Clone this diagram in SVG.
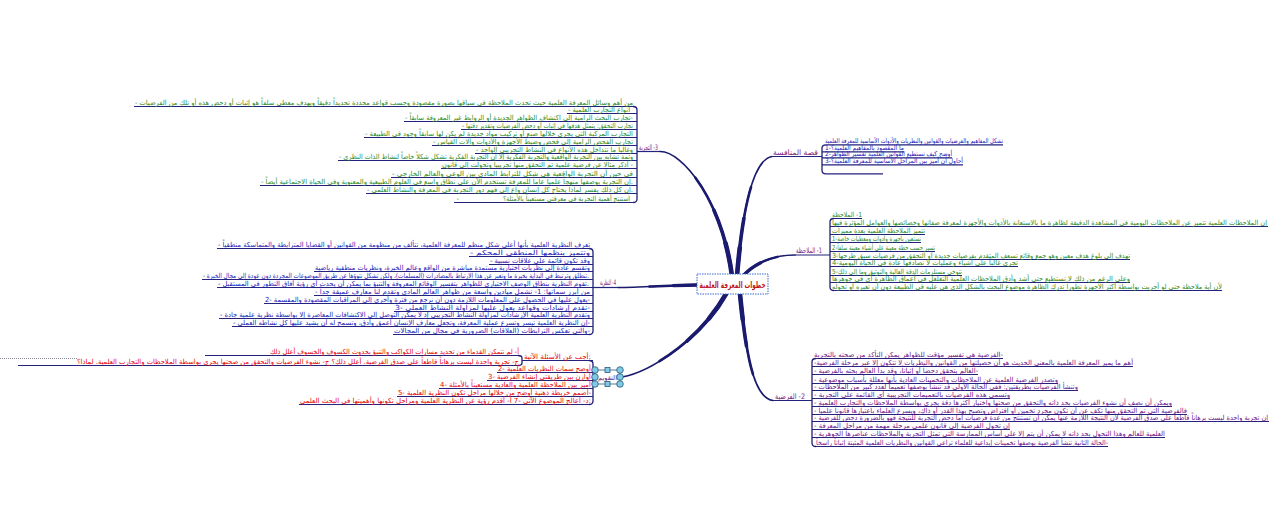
<svg xmlns="http://www.w3.org/2000/svg" xmlns:xlink="http://www.w3.org/1999/xlink" width="1287" height="513" viewBox="0 0 1287 513">
<style>
.t{font-family:"DejaVu Sans","Noto Sans",sans-serif;font-size:7px;direction:rtl;text-anchor:start}
.s{font-size:6.5px}
.g{fill:#2c8a1c}
.b{fill:#2020b8}
.r{fill:#e60000}
.p{fill:#6b1089}
.lab{fill:#7a1a7a;font-size:7.5px}
.ul{stroke:#23237e;stroke-width:1.2;fill:none}
.sp{stroke:#1f1f78;stroke-width:1.3;fill:none;stroke-linejoin:round}
.conn use{fill:none;stroke:#1a1a6e;stroke-linecap:round}
.hc{fill:#7fc9e4;stroke:#2a5a78;stroke-width:0.8}
</style>
<defs>
<path id="c1" pathLength="100" d="M732,276 C722,200 682,151 660,151.5"/>
<path id="c2" pathLength="100" d="M737,276 C742,215 752,160 772,156.5"/>
<path id="c3" pathLength="100" d="M742,277 C755,262 775,255 795,255"/>
<path id="c4" pathLength="100" d="M697,285 C675,285 640,287.5 618,287.5"/>
<path id="c5" pathLength="100" d="M726,294 C700,340 650,372 622,377"/>
<path id="c6" pathLength="100" d="M740,294 C745,345 752,398 773,400.5"/>
</defs>
<rect width="1287" height="513" fill="#ffffff"/>

<g id="connectors" class="conn">
<use xlink:href="#c1" stroke-width="1.7"/><use xlink:href="#c1" stroke-width="2.6" stroke-dasharray="70 200"/><use xlink:href="#c1" stroke-width="3.6" stroke-dasharray="45 200"/><use xlink:href="#c1" stroke-width="4.6" stroke-dasharray="22 200"/>
<use xlink:href="#c2" stroke-width="1.7"/><use xlink:href="#c2" stroke-width="2.6" stroke-dasharray="70 200"/><use xlink:href="#c2" stroke-width="3.6" stroke-dasharray="45 200"/><use xlink:href="#c2" stroke-width="4.6" stroke-dasharray="22 200"/>
<use xlink:href="#c3" stroke-width="1.6"/><use xlink:href="#c3" stroke-width="2.5" stroke-dasharray="70 200"/><use xlink:href="#c3" stroke-width="3.4" stroke-dasharray="40 200"/>
<use xlink:href="#c4" stroke-width="1.6"/><use xlink:href="#c4" stroke-width="2.5" stroke-dasharray="60 200"/><use xlink:href="#c4" stroke-width="3.3" stroke-dasharray="30 200"/>
<use xlink:href="#c5" stroke-width="1.7"/><use xlink:href="#c5" stroke-width="2.6" stroke-dasharray="70 200"/><use xlink:href="#c5" stroke-width="3.6" stroke-dasharray="45 200"/><use xlink:href="#c5" stroke-width="4.6" stroke-dasharray="22 200"/>
<use xlink:href="#c6" stroke-width="1.7"/><use xlink:href="#c6" stroke-width="2.6" stroke-dasharray="70 200"/><use xlink:href="#c6" stroke-width="3.6" stroke-dasharray="45 200"/><use xlink:href="#c6" stroke-width="4.6" stroke-dasharray="22 200"/>
<path class="sp" d="M633,106.5 Q637,106.5 637,110 V199 Q637,202.5 633,202.5"/>
<path class="sp" d="M589,248.5 Q593,248.5 593,252 V331 Q593,334.5 589,334.5"/>
<path class="sp" d="M589,360.5 Q593,360.5 593,364 V401 Q593,404.5 589,404.5"/>
<path class="sp" d="M518,355.5 Q522,355.5 522,358 V363 Q522,365.5 518,365.5"/>
<path class="sp" d="M826,144.8 Q822,144.8 822,148 V170.5 Q822,173.8 826,173.8"/>
<path class="sp" d="M834,218.5 Q830,218.5 830,222 V287 Q830,290.5 834,290.5"/>
<path class="sp" d="M816,358.5 Q812,358.5 812,362 V443 Q812,446.5 816,446.5"/>
</g>

<g id="center">
<rect x="697" y="274" width="71" height="20" fill="#ffffff" stroke="#3a6ad0" stroke-width="1" stroke-dasharray="1.5 1"/>
<text x="732.5" y="288" style="font-family:'DejaVu Sans',sans-serif;font-size:9px;font-weight:bold;fill:#c0141c;text-anchor:middle;direction:rtl" textLength="66" lengthAdjust="spacingAndGlyphs">خطوات المعرفة العلمية</text>
</g>

<g id="tajriba">
<text class="t lab" x="658" y="149.5" textLength="19" lengthAdjust="spacingAndGlyphs">3- التجربة</text>
<path class="ul" d="M637,151.5H660"/>
<path class="ul" d="M134,106.5H634 M567,113.5H637 M404,121.5H637 M461,129.5H637 M364,137.5H637 M432,145.5H637 M475,153.5H637 M338,160.5H637 M441,168.5H637 M391,177.5H637 M260,185.5H637 M366,193.5H637 M454,202.5H634"/>
<g class="t g" >
<text x="633" y="104.5" textLength="498" lengthAdjust="spacingAndGlyphs">من أهم وسائل المعرفة العلمية حيث تحدث الملاحظة في سياقها بصورة مقصودة وحسب قواعد محددة تحديداً دقيقاً وبهدف معطى سلفاً هو إثبات أو دحض هذه أو تلك من الفرضيات -</text>
<text x="630" y="111.5" textLength="62" lengthAdjust="spacingAndGlyphs">أنواع التجارب العلمية -</text>
<text x="633" y="119.5" textLength="228" lengthAdjust="spacingAndGlyphs">-تجارب البحث الرامية إلى اكتشاف الظواهر الجديدة أو الروابط غير المعروفة سابقاً -</text>
<text x="633" y="127.5" textLength="171" lengthAdjust="spacingAndGlyphs">تجارب التحقق: يتمثل هدفها في إثبات أو دحض الفرضيات وتقدير دقتها -</text>
<text x="633" y="135.5" textLength="268" lengthAdjust="spacingAndGlyphs">التجارب المركبة التي يجري خلالها صنع أو تركيب مواد جديدة لم يكن لها سابقاً وجود في الطبيعة -</text>
<text x="633" y="143.5" textLength="200" lengthAdjust="spacingAndGlyphs">تجارب الفحص الرامية إلى فحص وضبط الأجهزة والأدوات وآلات القياس -</text>
<text x="633" y="151.5" textLength="157" lengthAdjust="spacingAndGlyphs">وغالباً ما تتداخل هذه الأنواع في النشاط التجريبي الواحد -</text>
<text x="633" y="158.5" textLength="294" lengthAdjust="spacingAndGlyphs">وثمة تشابه بين التجربة الواقعية والتجربة الفكرية إلا أن التجربة الفكرية تشكل شكلاً خاصاً لنشاط الذات النظري -</text>
<text x="633" y="166.5" textLength="191" lengthAdjust="spacingAndGlyphs">- أذكر مثالاً عن فرضية علمية تم التحقق منها تجريبياً وتحولت إلى قانون</text>
<text x="633" y="175.5" textLength="241" lengthAdjust="spacingAndGlyphs">في حين أن التجربة الواقعية هي شكل للترابط المادي بين الوعي والعالم الخارجي -</text>
<text x="633" y="183.5" textLength="372" lengthAdjust="spacingAndGlyphs">.إن التجربة بوصفها منهجاً علمياً عاماً للمعرفة تستخدم الآن على نطاق واسع في العلوم الطبيعية والمعنوية وفي الحياة الاجتماعية أيضاً -</text>
<text x="633" y="191.5" textLength="266" lengthAdjust="spacingAndGlyphs">.إن كل ذلك يفسر لماذا يحتاج كل إنسان واع إلى فهم دور التجربة في المعرفة والنشاط العلمي -</text>
<text x="630" y="200.5" textLength="127" lengthAdjust="spacingAndGlyphs">استنتج أهمية التجربة في معرفتي مستعيناً بالأمثلة؟</text>
<text x="459" y="200.5">-</text>
</g>
</g>

<g id="nadhariya">
<text class="t lab s" x="616" y="284.5" textLength="16" lengthAdjust="spacingAndGlyphs">4- النظرية</text>
<path class="ul" d="M593,287.5H618"/>
<path class="ul" d="M217,248.5H590 M469,256.5H593 M489,264.5H593 M314,271.5H593 M202,279.5H593 M217,287.5H593 M314,295.5H593 M264,303.5H593 M394,311.5H593 M219,318.5H593 M232,326.5H593 M393,334.5H590"/>
<g class="t b">
<text x="590" y="246.5" textLength="372" lengthAdjust="spacingAndGlyphs">تعرف النظرية العلمية بأنها أعلى شكل منظم للمعرفة العلمية، تتألف من منظومة من القوانين أو القضايا المترابطة والمتماسكة منطقياً -</text>
<text x="590" y="254.5" textLength="120" lengthAdjust="spacingAndGlyphs">وتتميز بنظمها المنطقي المحكم -</text>
<text x="590" y="262.5" textLength="100" lengthAdjust="spacingAndGlyphs">وقد تكون قائمة على علاقات نسبية -</text>
<text x="590" y="269.5" textLength="275" lengthAdjust="spacingAndGlyphs">وتقسم عادة إلى نظريات اختبارية مستمدة مباشرة من الواقع وعالم الخبرة، ونظريات منطقية رياضية</text>
<text x="589" y="277.5" textLength="386" lengthAdjust="spacingAndGlyphs">.تنطلق وترتبط في البداية بخبرة ما وتعبر عن هذا الارتباط بالمصادرات (المسلمات)، ولكن تشكل نتوؤها عن طريق الموضوعات المجردة دون عودة إلى مجال الخبرة -</text>
<text x="589" y="285.5" textLength="371" lengthAdjust="spacingAndGlyphs">.تقوم النظرية بنطاق الوصف الاختباري للظواهر بتفسير الوقائع المعروفة والتنبؤ بما يمكن أن يحدث أي رؤية آفاق التطور في المستقبل -</text>
<text x="590" y="293.5" textLength="275" lengthAdjust="spacingAndGlyphs">من أبرز سماتها: 1- تشمل ميادين واسعة من ظواهر العالم المادي وتقدم لنا معارف عميقة جداً -</text>
<text x="590" y="301.5" textLength="325" lengthAdjust="spacingAndGlyphs">-يعول عليها في الحصول على المعلومات اللازمة دون أن نرجع من فترة وأخرى إلى المراقبات المقصودة والمقسمة -2</text>
<text x="590" y="309.5" textLength="195" lengthAdjust="spacingAndGlyphs">-تقدم إرشادات وقواعد يعول عليها لمزاولة النشاط العملي -3</text>
<text x="590" y="316.5" textLength="370" lengthAdjust="spacingAndGlyphs">وتقدم النظرية العلمية الإرشادات لمزاولة النشاط التجريبي إذ لا يمكن التوصل إلى الاكتشافات المعاصرة إلا بواسطة نظرية علمية جادة -</text>
<text x="590" y="324.5" textLength="357" lengthAdjust="spacingAndGlyphs">-إن النظرية العلمية تيسر وتسرع عملية المعرفة، وتجعل معارف الإنسان أعمق وأدق، وتسمح له أن يشيد عليها كل نشاطه العملي -</text>
<text x="590" y="332.5" textLength="196" lengthAdjust="spacingAndGlyphs">-والتي تعكس الترابطات (العلاقات) الضرورية في مجال من المجالات</text>
</g>
</g>

<g id="taqwim">
<rect x="595" y="370" width="25" height="14" fill="none" stroke="#2a5a78" stroke-width="0.8"/>
<text class="t" x="617" y="379.5" style="fill:#5a1a7a;font-size:6.5px" textLength="19" lengthAdjust="spacingAndGlyphs">التقويم</text>
<circle class="hc" cx="595" cy="370" r="3.3"/><circle class="hc" cx="620" cy="370" r="3.3"/>
<circle class="hc" cx="595" cy="377" r="3.3"/><circle class="hc" cx="620" cy="377" r="3.3"/>
<circle class="hc" cx="595" cy="384" r="3.3"/><circle class="hc" cx="620" cy="384" r="3.3"/>
<rect class="hc" x="605" y="367.5" width="5" height="5"/><rect class="hc" x="605" y="381.5" width="5" height="5"/>
<path class="ul" d="M522,360.5H593 M497,372.5H593 M487,380.5H593 M439,388.5H593 M397,396.5H593 M299,404.5H589 M205,355.5H518 M18,365.5H518"/>
<path d="M0,358.5H77" stroke="#8a8a9a" stroke-width="1" stroke-dasharray="1 1"/>
<g class="t r">
<text x="591" y="358.5" textLength="67" lengthAdjust="spacingAndGlyphs">:أجب عن الأسئلة الآتية</text>
<text x="519" y="353.5" textLength="249" lengthAdjust="spacingAndGlyphs">أ- لم تتمكن القدماء من تحديد مسارات الكواكب والتنبؤ بحدوث الكسوف والخسوف أعلل ذلك</text>
<text x="519" y="363.5" textLength="442" lengthAdjust="spacingAndGlyphs">ج- تجربة واحدة ليست برهاناً قاطعاً على صدق الفرضية. أعلل ذلك؟    ج- نشوء الفرضيات والتحقق من صحتها يجري بواسطة الملاحظات والتجارب العلمية. لماذا؟</text>
<text x="591" y="370.5" textLength="93" lengthAdjust="spacingAndGlyphs">أوضح سمات النظريات العلمية -2</text>
<text x="591" y="378.5" textLength="103" lengthAdjust="spacingAndGlyphs">أوازن بين طريقتي إنشاء الفرضية -3</text>
<text x="591" y="386.5" textLength="151" lengthAdjust="spacingAndGlyphs">أميز بين الملاحظة العلمية والعادية مستعيناً بالأمثلة -4</text>
<text x="591" y="394.5" textLength="193" lengthAdjust="spacingAndGlyphs">-أصمم خريطة ذهنية أوضح من خلالها مراحل تكون النظرية العلمية -5</text>
<text x="591" y="402.5" textLength="291" lengthAdjust="spacingAndGlyphs">:د- أعالج الموضوع الآتي -7    أ- أقدم رؤية عن النظرية العلمية ومراحل تكونها وأهميتها في البحث العلمي</text>
</g>
</g>

<g id="qissa">
<text class="t lab" x="818" y="154.5" textLength="45" lengthAdjust="spacingAndGlyphs">قصة المنافسة</text>
<path class="ul" d="M772,156.5H822"/>
<path class="ul" d="M826,144.8H1003 M822,151.8H904 M822,157.8H952 M822,164.8H963 M826,173.8H883"/>
<g class="t b s">
<text x="1003" y="143.3" textLength="178" lengthAdjust="spacingAndGlyphs">تشكل المفاهيم والفرضيات والقوانين والنظريات والأدوات الأساسية للمعرفة العلمية</text>
<text x="904" y="150.3" textLength="79" lengthAdjust="spacingAndGlyphs">ما المقصود بالمفاهيم العلمية؟-1</text>
<text x="952" y="156.3" textLength="127" lengthAdjust="spacingAndGlyphs">أوضح كيف تستطيع القوانين العلمية تفسير الظواهر-2</text>
<text x="963" y="163.3" textLength="138" lengthAdjust="spacingAndGlyphs">أحاول أن أميز بين المراحل الأساسية للمعرفة العلمية؟-3</text>
</g>
</g>

<g id="mulahatha">
<text class="t lab" x="822" y="252.5" textLength="26" lengthAdjust="spacingAndGlyphs">1- الملاحظة</text>
<path class="ul" d="M795,255H830"/>
<path class="ul" d="M834,218.5H862 M830,226.5H1268 M830,234.5H925 M830,242.5H921 M830,251.5H935 M830,259.5H1130 M830,266.5H1018 M830,275.5H962 M830,282.5H1130 M834,290.5H1222"/>
<g class="t g">
<text x="862" y="216.5" textLength="30" lengthAdjust="spacingAndGlyphs">1- الملاحظة</text>
<text x="1267" y="224.5" textLength="435" lengthAdjust="spacingAndGlyphs">إن الملاحظات العلمية تتميز عن الملاحظات اليومية في المشاهدة الدقيقة لظاهرة ما بالاستعانة بالأدوات والأجهزة لمعرفة صفاتها وخصائصها والعوامل المؤثرة فيها</text>
<text x="925" y="232.5" textLength="93" lengthAdjust="spacingAndGlyphs">تتميز الملاحظة العلمية بعدة مميزات</text>
<text x="921" y="240.5" textLength="89" lengthAdjust="spacingAndGlyphs">تستعين بأجهزة وأدوات ومعطيات خاصة-1</text>
<text x="935" y="249.5" textLength="103" lengthAdjust="spacingAndGlyphs">تسير حسب خطة معينة على أشياء معينة سلفاً-2</text>
<text x="1130" y="257.5" textLength="298" lengthAdjust="spacingAndGlyphs">تهدف إلى بلوغ هدف معين وهو جمع وقائع تسعف المتقدم بفرضيات جديدة أو التحقق من فرضيات سبق طرحها-3</text>
<text x="1018" y="264.5" textLength="186" lengthAdjust="spacingAndGlyphs">تجري غالباً على أشياء وعمليات لا نصادفها عادة في الحياة اليومية-4</text>
<text x="962" y="273.5" textLength="130" lengthAdjust="spacingAndGlyphs">تتوخى مستلزمات الدقة العالية والتوثيق وما إلى ذلك-5</text>
<text x="1130" y="280.5" textLength="298" lengthAdjust="spacingAndGlyphs">وعلى الرغم من ذلك لا تستطيع حتى أشد وأدق الملاحظات العلمية التغلغل في أعماق الظاهرة أي في جوهرها</text>
<text x="1222" y="288.5" textLength="390" lengthAdjust="spacingAndGlyphs">لأن أية ملاحظة حتى لو أجريت بواسطة أكثر الأجهزة تطوراً تدرك الظاهرة موضوع البحث بالشكل الذي هي عليه في الطبيعة دون أن تغيره أو تحوله</text>
</g>
</g>

<g id="fardiya">
<text class="t lab" x="805" y="398.5" textLength="30" lengthAdjust="spacingAndGlyphs">2- الفرضية</text>
<path class="ul" d="M773,400.5H812"/>
<path class="ul" d="M816,358.5H1003 M812,366.5H1133 M812,374.5H978 M812,383.5H1058 M812,390.5H1078 M812,398.5H1010 M812,406.5H1172 M812,414.5H1187 M812,421.5H1269 M812,429.5H1010 M812,437.5H1165 M816,446.5H1108"/>
<g class="t p">
<text x="1003" y="356.5" textLength="189" lengthAdjust="spacingAndGlyphs">-الفرضية هي تفسير مؤقت للظواهر يمكن التأكد من صحته بالتجربة</text>
<text x="1133" y="364.5" textLength="319" lengthAdjust="spacingAndGlyphs">أهم ما يميز المعرفة العلمية بالمعنى الحديث هو أن حصيلتها من القوانين والنظريات لا تتكون إلا عبر مرحلة الفرضية-</text>
<text x="978" y="372.5" textLength="164" lengthAdjust="spacingAndGlyphs">-العالم يتحقق دحضاً أو إثباتاً، وقد بدأ العالم بحثه بالفرضية -</text>
<text x="1058" y="381.5" textLength="244" lengthAdjust="spacingAndGlyphs">وتصدر الفرضية العلمية عن الملاحظات والتخمينات العادية بأنها معللة بأسباب موضوعية -</text>
<text x="1078" y="388.5" textLength="264" lengthAdjust="spacingAndGlyphs">وتنشأ الفرضيات بطريقتين: ففي الحالة الأولى قد تنشأ بوصفها تعميماً لعدد كبير من الملاحظات -</text>
<text x="1010" y="396.5" textLength="196" lengthAdjust="spacingAndGlyphs">وتسمى هذه الفرضيات بالتعميمات التجريبية أي القائمة على التجربة -</text>
<text x="1172" y="404.5" textLength="358" lengthAdjust="spacingAndGlyphs">ويمكن أن نصف أن نشوء الفرضيات بحد ذاته والتحقق من صحتها واختيار أكثرها دقة يجري بواسطة الملاحظات والتجارب العلمية -</text>
<text x="1187" y="412.5" textLength="373" lengthAdjust="spacingAndGlyphs">فالفرضية التي تم التحقق منها تكف عن أن تكون مجرد تخمين أو افتراض وتصبح بهذا القدر أو ذاك، ويسرع العلماء باعتبارها قانوناً علمياً -</text>
<text x="1268" y="419.5" textLength="454" lengthAdjust="spacingAndGlyphs">إن تجربة واحدة ليست برهاناً قاطعاً على صدق الفرضية لأن النتيجة اللازمة عنها يمكن أن تستنتج من عدة فرضيات أما دحض التجربة للنتيجة فهو بالضرورة دحض للفرضية -</text>
<text x="1010" y="427.5" textLength="196" lengthAdjust="spacingAndGlyphs">إن تحول الفرضية إلى قانون علمي مرحلة مهمة من مراحل المعرفة -</text>
<text x="1165" y="435.5" textLength="351" lengthAdjust="spacingAndGlyphs">العلمية للعالم وهذا التحول بحد ذاته لا يمكن أن يتم إلا على أساس الممارسة التي تمثل التجربة والملاحظات عناصرها الجوهرية -</text>
<text x="1108" y="444.5" textLength="292" lengthAdjust="spacingAndGlyphs">-الحالة الثانية تنشأ الفرضية بوصفها تخمينات إبداعية للعلماء تراعي القوانين والنظريات العلمية المثبتة إثباتاً راسخاً</text>
</g>
</g>
</svg>
